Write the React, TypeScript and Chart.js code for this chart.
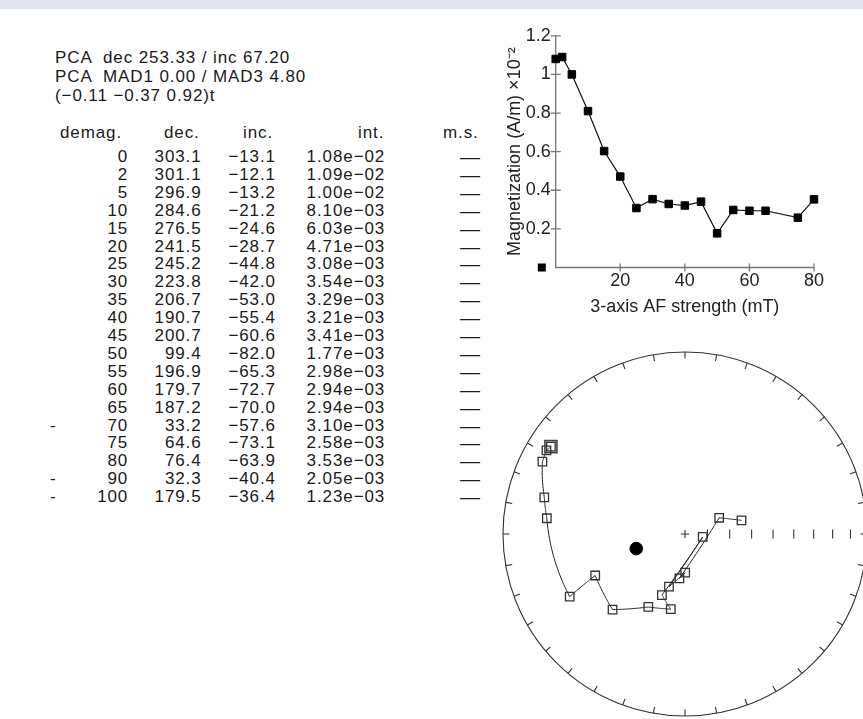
import React, { useEffect, useRef } from 'react';
import { Chart, registerables } from 'chart.js';

Chart.register(...registerables);

// ---- data ----
const steps = [0, 2, 5, 10, 15, 20, 25, 30, 35, 40, 45, 50, 55, 60, 65, 70, 75, 80, 90, 100];
const decs = [303.1, 301.1, 296.9, 284.6, 276.5, 241.5, 245.2, 223.8, 206.7, 190.7, 200.7, 99.4, 196.9, 179.7, 187.2, 33.2, 64.6, 76.4, 32.3, 179.5];
const incs = [-13.1, -12.1, -13.2, -21.2, -24.6, -28.7, -44.8, -42.0, -53.0, -55.4, -60.6, -82.0, -65.3, -72.7, -70.0, -57.6, -73.1, -63.9, -40.4, -36.4];
const ints = [1.08e-2, 1.09e-2, 1.0e-2, 8.1e-3, 6.03e-3, 4.71e-3, 3.08e-3, 3.54e-3, 3.29e-3, 3.21e-3, 3.41e-3, 1.77e-3, 2.98e-3, 2.94e-3, 2.94e-3, 3.1e-3, 2.58e-3, 3.53e-3, 2.05e-3, 1.23e-3];
const excludedSteps = [70, 90, 100];
const pcaDec = 253.33;
const pcaInc = 67.2;
const pcaMad1 = 0.0;
const pcaMad3 = 4.8;
const pcaVector = [-0.11, -0.37, 0.92];
const strayMarker = [{ x: -4.3, y: 0 }];
const magXTicks = [20, 40, 60, 80];
const magYTicks = [0.002, 0.004, 0.006, 0.008, 0.01, 0.012];
const headers = ['demag.', 'dec.', 'inc.', 'int.', 'm.s.'];
const xTitle = '3-axis AF strength (mT)';
const yTitle = 'Magnetization (A/m) \u00d710\u207b\u00b2';

const FONT = "'Liberation Sans', Arial, Helvetica, sans-serif";
const MINUS = '\u2212';

const fmtSigned = (v: number, d: number) => (v < 0 ? MINUS + Math.abs(v).toFixed(d) : v.toFixed(d));
const fmtExp = (v: number) => {
  const [m, e] = v.toExponential(2).split('e');
  const n = parseInt(e, 10);
  return m + 'e' + (n < 0 ? MINUS : '+') + String(Math.abs(n)).padStart(2, '0');
};

const keptIdx = steps.map((_, i) => i).filter((i) => !excludedSteps.includes(steps[i]));

const rad = Math.PI / 180;
const eqArea = (dec: number, inc: number) => {
  const r = Math.SQRT2 * Math.sin(((90 - Math.abs(inc)) / 2) * rad);
  return { x: r * Math.sin(dec * rad), y: r * Math.cos(dec * rad) };
};

// ---- magnetization chart ----
const magAxisPlugin = {
  id: 'magAxes',
  beforeDatasetsDraw(chart: any) {
    const { ctx, chartArea, scales } = chart;
    const { left, right, top, bottom } = chartArea;
    ctx.save();
    ctx.strokeStyle = '#777';
    ctx.lineWidth = 1.3;
    ctx.beginPath();
    ctx.moveTo(left, top);
    ctx.lineTo(left, bottom);
    ctx.lineTo(right, bottom);
    magYTicks.forEach((v) => {
      const py = scales.y.getPixelForValue(v);
      ctx.moveTo(left - 5, py);
      ctx.lineTo(left + 5, py);
    });
    magXTicks.forEach((v) => {
      const px = scales.x.getPixelForValue(v);
      ctx.moveTo(px, bottom - 4);
      ctx.lineTo(px, bottom + 4);
    });
    ctx.stroke();
    // stray marker outside the axis range
    ctx.fillStyle = '#000';
    strayMarker.forEach((p) => {
      const px = scales.x.getPixelForValue(p.x);
      const py = scales.y.getPixelForValue(p.y);
      ctx.fillRect(px - 4, py - 4, 8, 8);
    });
    ctx.restore();
  },
};

function MagChart() {
  const ref = useRef<HTMLCanvasElement>(null);
  useEffect(() => {
    const data = keptIdx.map((i) => ({ x: steps[i], y: ints[i] }));
    const chart = new Chart(ref.current as HTMLCanvasElement, {
      type: 'scatter',
      data: {
        datasets: [
          {
            data,
            showLine: true,
            borderColor: '#111',
            borderWidth: 1.2,
            pointStyle: 'rect',
            pointRadius: 5.3,
            pointBackgroundColor: '#000',
            pointBorderColor: '#000',
            pointBorderWidth: 1,
            clip: false,
          } as any,
        ],
      },
      options: {
        animation: false,
        responsive: false,
        events: [],
        plugins: { legend: { display: false }, tooltip: { enabled: false } },
        layout: { padding: { left: 0, top: 15, right: 16, bottom: 0 } },
        scales: {
          x: {
            type: 'linear',
            min: 0,
            max: 80,
            afterFit: (s: any) => {
              s.height = 52.5;
            },
            afterBuildTicks: (s: any) => {
              s.ticks = magXTicks.map((v) => ({ value: v }));
            },
            grid: { display: false, drawTicks: false },
            border: { display: false },
            ticks: { padding: 3, color: '#222', font: { size: 18, family: FONT }, maxRotation: 0 },
            title: { display: true, text: xTitle, color: '#222', font: { size: 18, family: FONT }, padding: { top: 0, bottom: 2 } },
          },
          y: {
            type: 'linear',
            min: 0,
            max: 0.012,
            afterFit: (s: any) => {
              s.width = 65.7;
            },
            afterBuildTicks: (s: any) => {
              s.ticks = magYTicks.map((v) => ({ value: v }));
            },
            grid: { display: false, drawTicks: false },
            border: { display: false },
            ticks: {
              padding: 5,
              color: '#222',
              font: { size: 18, family: FONT },
              callback: (v: any) => String(parseFloat((Number(v) * 100).toFixed(2))),
            },
            title: { display: true, text: yTitle, color: '#222', font: { size: 18, family: FONT }, padding: { top: 14, bottom: 0 } },
          },
        },
      } as any,
      plugins: [magAxisPlugin],
    });
    return () => chart.destroy();
  }, []);
  return <canvas ref={ref} width={340} height={300} style={{ position: 'absolute', left: 490, top: 20, width: 340, height: 300 }} />;
}

// ---- equal-area net ----
const toVec = (dec: number, inc: number) => [
  Math.cos(inc * rad) * Math.cos(dec * rad),
  Math.cos(inc * rad) * Math.sin(dec * rad),
  Math.sin(inc * rad),
];

const netPlugin = {
  id: 'net',
  beforeDatasetsDraw(chart: any) {
    const { ctx, scales } = chart;
    const X = (v: number) => scales.x.getPixelForValue(v);
    const Y = (v: number) => scales.y.getPixelForValue(v);
    const cx = X(0);
    const cy = Y(0);
    const R = X(1) - cx;
    ctx.save();
    ctx.strokeStyle = '#333';
    ctx.lineWidth = 1.1;
    ctx.beginPath();
    ctx.arc(cx, cy, R, 0, Math.PI * 2);
    ctx.stroke();
    ctx.beginPath();
    for (let a = 0; a < 360; a += 10) {
      const s = Math.sin(a * rad);
      const c = Math.cos(a * rad);
      const k = 1 - 6.5 / R;
      ctx.moveTo(X(s), Y(c));
      ctx.lineTo(X(s * k), Y(c * k));
    }
    ctx.moveTo(cx - 4, cy);
    ctx.lineTo(cx + 4, cy);
    ctx.moveTo(cx, cy - 4);
    ctx.lineTo(cx, cy + 4);
    for (let inc = 10; inc <= 80; inc += 10) {
      const p = eqArea(90, inc);
      ctx.moveTo(X(p.x), cy - 4.5);
      ctx.lineTo(X(p.x), cy + 4.5);
    }
    ctx.stroke();
    ctx.strokeStyle = '#222';
    ctx.lineWidth = 1;
    ctx.beginPath();
    let first = true;
    for (let j = 0; j < keptIdx.length - 1; j++) {
      const a = toVec(decs[keptIdx[j]], incs[keptIdx[j]]);
      const b = toVec(decs[keptIdx[j + 1]], incs[keptIdx[j + 1]]);
      const dot = Math.max(-1, Math.min(1, a[0] * b[0] + a[1] * b[1] + a[2] * b[2]));
      const om = Math.acos(dot);
      const n = 24;
      for (let k = 0; k <= n; k++) {
        const t = k / n;
        let v: number[];
        if (om < 1e-6) v = a;
        else {
          const s1 = Math.sin((1 - t) * om) / Math.sin(om);
          const s2 = Math.sin(t * om) / Math.sin(om);
          v = [a[0] * s1 + b[0] * s2, a[1] * s1 + b[1] * s2, a[2] * s1 + b[2] * s2];
        }
        const len = Math.hypot(v[0], v[1], v[2]);
        const inc = Math.asin(v[2] / len) / rad;
        const dec = Math.atan2(v[1], v[0]) / rad;
        const p = eqArea(dec, inc);
        if (first) {
          ctx.moveTo(X(p.x), Y(p.y));
          first = false;
        } else ctx.lineTo(X(p.x), Y(p.y));
      }
    }
    ctx.stroke();
    ctx.restore();
  },
};

function NetChart() {
  const ref = useRef<HTMLCanvasElement>(null);
  useEffect(() => {
    const upper = keptIdx.filter((i) => incs[i] < 0).map((i) => eqArea(decs[i], incs[i]));
    const lower = keptIdx.filter((i) => incs[i] >= 0).map((i) => eqArea(decs[i], incs[i]));
    const start = [eqArea(decs[keptIdx[0]], incs[keptIdx[0]])];
    const pca = [eqArea(pcaDec, pcaInc)];
    const chart = new Chart(ref.current as HTMLCanvasElement, {
      type: 'scatter',
      data: {
        datasets: [
          { data: upper, pointStyle: 'rect', pointRadius: 6, pointBorderColor: '#333', pointBackgroundColor: 'rgba(0,0,0,0)', pointBorderWidth: 1.3 } as any,
          { data: lower, pointStyle: 'rect', pointRadius: 6, pointBorderColor: '#333', pointBackgroundColor: '#000', pointBorderWidth: 1.3 } as any,
          { data: start, pointStyle: 'rect', pointRadius: 8.5, pointBorderColor: '#444', pointBackgroundColor: 'rgba(0,0,0,0)', pointBorderWidth: 1.6 } as any,
          { data: pca, pointStyle: 'circle', pointRadius: 6.3, pointBorderColor: '#000', pointBackgroundColor: '#000', pointBorderWidth: 1 } as any,
        ],
      },
      options: {
        animation: false,
        responsive: false,
        events: [],
        plugins: { legend: { display: false }, tooltip: { enabled: false } },
        layout: { padding: 18 },
        scales: {
          x: { type: 'linear', min: -1, max: 1, display: false },
          y: { type: 'linear', min: -1, max: 1, display: false },
        },
      } as any,
      plugins: [netPlugin],
    });
    return () => chart.destroy();
  }, []);
  return <canvas ref={ref} width={400} height={400} style={{ position: 'absolute', left: 485, top: 334, width: 400, height: 400 }} />;
}

// ---- text table ----
const LH = 18;
const LS = 0.9;
const rowCenter0 = 157;
const rowPitch = 17.9;

function Txt(props: { left?: number; right?: number; cy: number; children: React.ReactNode; center?: number }) {
  const style: React.CSSProperties = {
    position: 'absolute',
    top: props.cy - LH / 2,
    lineHeight: LH + 'px',
    height: LH,
    whiteSpace: 'pre',
  };
  if (props.right !== undefined) {
    style.left = props.right + LS - 200;
    style.width = 200;
    style.textAlign = 'right';
  } else if (props.center !== undefined) {
    style.left = props.center - 50;
    style.width = 100;
    style.textAlign = 'center';
  } else {
    style.left = props.left;
  }
  return <div style={style}>{props.children}</div>;
}

function Table() {
  const pcaLines = [
    `PCA  dec ${pcaDec.toFixed(2)} / inc ${pcaInc.toFixed(2)}`,
    `PCA  MAD1 ${pcaMad1.toFixed(2)} / MAD3 ${pcaMad3.toFixed(2)}`,
    `(${pcaVector.map((v) => fmtSigned(v, 2)).join(' ')})t`,
  ];
  const pcaCenters = [58, 77, 96];
  const headerLeft = [60, 164, 243, 358, 443];
  return (
    <div style={{ position: 'absolute', left: 0, top: 0, fontSize: 17, letterSpacing: LS + 'px', fontFamily: FONT, color: '#1a1a1a' }}>
      {pcaLines.map((t, k) => (
        <Txt key={'p' + k} left={55} cy={pcaCenters[k]}>
          {t}
        </Txt>
      ))}
      {headers.map((h, k) => (
        <Txt key={'h' + k} left={headerLeft[k]} cy={133}>
          {h}
        </Txt>
      ))}
      {steps.map((s, i) => {
        const cy = rowCenter0 + rowPitch * i;
        return (
          <React.Fragment key={'r' + i}>
            {excludedSteps.includes(s) ? (
              <Txt left={50} cy={cy}>
                -
              </Txt>
            ) : null}
            <Txt right={127.3} cy={cy}>
              {String(s)}
            </Txt>
            <Txt right={200.7} cy={cy}>
              {decs[i].toFixed(1)}
            </Txt>
            <Txt right={275} cy={cy}>
              {fmtSigned(incs[i], 1)}
            </Txt>
            <Txt right={384.3} cy={cy}>
              {fmtExp(ints[i])}
            </Txt>
            <Txt center={470} cy={cy}>
              <span style={{ fontSize: 20, letterSpacing: 0 }}>{'\u2014'}</span>
            </Txt>
          </React.Fragment>
        );
      })}
    </div>
  );
}

export default function App() {
  useEffect(() => {
    document.body.style.margin = '0';
  }, []);
  return (
    <div style={{ position: 'fixed', left: 0, top: 0, width: 863, height: 719, overflow: 'hidden', background: '#fff' }}>
      <div style={{ position: 'absolute', left: 0, top: 0, width: 863, height: 9, background: '#e2e4f2' }} />
      <Table />
      <MagChart />
      <NetChart />
    </div>
  );
}
